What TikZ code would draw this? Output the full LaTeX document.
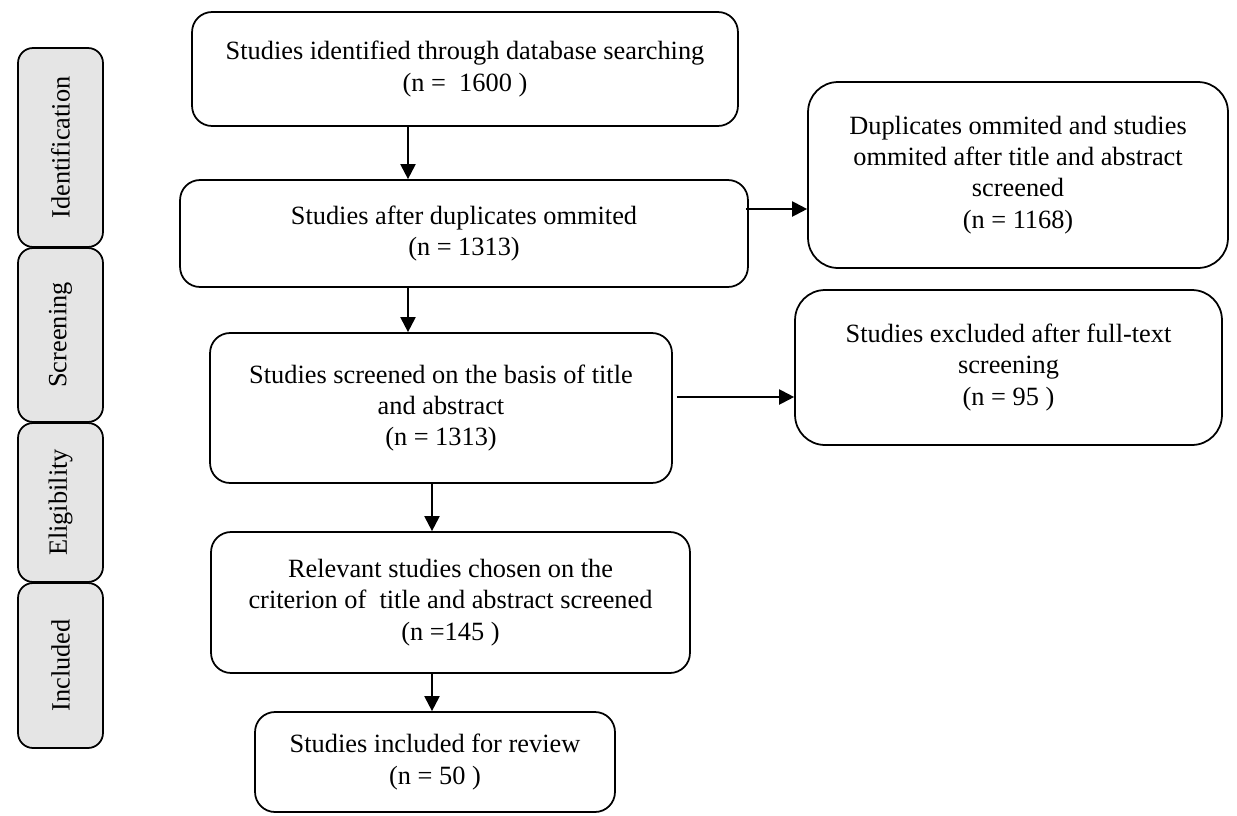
\documentclass[tikz,border=0pt]{standalone}
\usepackage{fontspec}
\setmainfont{Liberation Serif}
\usetikzlibrary{positioning,arrows.meta}
\tikzset{box/.style={draw,line width=1pt,rounded corners=4mm,align=center,font=\fontsize{15}{17.8}\selectfont,inner sep=0pt},
side/.style={draw,line width=1pt,fill=gray!20,rounded corners=3mm,font=\fontsize{15}{17.5}\selectfont,rotate=90,minimum height=1.7cm,inner sep=0pt},
arr/.style={line width=1.2pt,-{Triangle[length=3mm,width=3mm]}}}

\begin{document}
\begin{tikzpicture}[x=0.02cm,y=-0.02cm]
 	\useasboundingbox (0,0) rectangle (1237,815);
 	% phases on the left
 	\node[side,minimum width=3.98cm] (pid) at (60.5,147.5) {Identification};
 	\node[side,minimum width=3.48cm] (psc) at (60.5,335) {Screening};
 	\node[side,minimum width=3.18cm] (pel) at (60.5,502.5) {Eligibility};
 	\node[side,minimum width=3.3cm] (pin) at (60.5,665.5) {Included};
 	
 	% main column
 	\node[box,minimum width=10.92cm,minimum height=2.28cm] (ident) at (465,69) {Studies identified through database searching\\(n =~ 1600 )};
 	\node[box,minimum width=11.36cm,minimum height=2.14cm] (dup) at (464,233.5) {Studies after duplicates ommited\\(n = 1313)};
 	\node[box,minimum width=9.24cm,minimum height=3cm] (scr) at (441,408) {Studies screened on the basis of title\\and abstract\\(n = 1313)};
 	\node[box,minimum width=9.58cm,minimum height=2.82cm] (elig) at (450.5,602.5) {Relevant studies chosen on the\\criterion of~ title and abstract screened\\(n =145 )};
 	\node[box,minimum width=7.2cm,minimum height=2cm] (incl) at (435,762) {Studies included for review\\(n = 50 )};
 	
 	% excluded on the right
 	\node[box,rounded corners=6mm,minimum width=8.4cm,minimum height=3.72cm] (omit) at (1018,175) {Duplicates ommited and studies\\ommited after title and abstract\\screened\\(n = 1168)};
 	\node[box,rounded corners=6mm,minimum width=8.54cm,minimum height=3.1cm] (excl) at (1008.5,367.5) {Studies excluded after full-text\\screening\\(n = 95 )};
 	
 	\coordinate (colA) at (408,0);
 	\coordinate (colB) at (432,0);
 	\coordinate (rowA) at (0,209);
 	\coordinate (rowB) at (0,397);
 	
 	\draw[arr] (ident.south -| colA)--(dup.north -| colA);
 	\draw[arr] (dup.south -| colA)--(scr.north -| colA);
 	\draw[arr] (scr.south -| colB)--(elig.north -| colB);
 	\draw[arr] (elig.south -| colB)--(incl.north -| colB);
 	\draw[arr] ([xshift=-0.06cm]dup.east |- rowA)--(omit.west |- rowA);
 	\draw[arr] ([xshift=0.08cm]scr.east |- rowB)--(excl.west |- rowB);
\end{tikzpicture}
\end{document}
